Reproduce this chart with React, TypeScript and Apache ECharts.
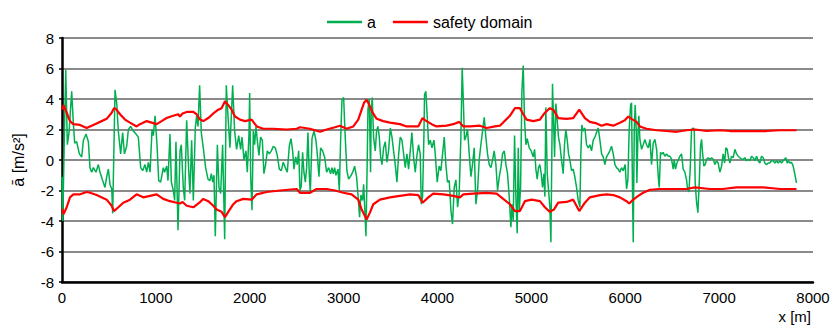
import React, { useEffect, useRef } from "react";
import * as echarts from "echarts";

// distance along route [m] and acceleration a [m/s²]
const accelX = [0,8,25,40,57,75,103,121,135,156,185,210,228,256,281,298,316,334,362,387,405,433,458,476,494,511,530,540,565,583,600,625,646,665,689,707,732,760,788,813,838,860,884,902,920,938,959,973,991,
1012,1030,1051,1079,1093,1115,1129,1150,1165,1186,1200,1214,1236,1257,1271,1292,1307,1328,1349,1363,1381,1399,1420,1434,1449,1466,1484,1505,1530,1555,1576,1591,1605,1619,1633,1655,1672,1690,1711,1733,1750,1768,1789,1818,1839,1860,1882,1903,1917,1939,1960,1974,1992,
1999,2010,2024,2038,2052,2066,2080,2098,2116,2134,2151,2169,2187,2208,2230,2251,2272,2293,2315,2336,2357,2379,2400,2421,2439,2457,2471,2489,2506,2521,2535,2549,2563,2577,2592,2606,2620,2634,2645,2663,2684,2705,2719,2737,2755,2776,2797,2819,2840,2861,2876,2890,2904,2918,2940,2954,2968,2982,3000,
3017,3035,3053,3081,3103,3117,3138,3152,3170,3184,3202,3213,3223,3238,3252,3259,3273,3287,3294,3305,3319,3337,3351,3365,3380,3394,3408,3426,3444,3461,3479,3497,3515,3532,3550,3568,3585,3603,3621,3639,3657,3674,3692,3710,3727,3745,3763,3781,3798,3816,3827,3841,3855,3862,3876,3891,3905,3923,3941,3962,3976,3997,
4018,4036,4054,4072,4089,4107,4125,4143,4160,4178,4196,4214,4231,4249,4263,4274,4288,4302,4320,4338,4356,4373,4391,4409,4427,4444,4462,4480,4498,4515,4533,4551,4569,4587,4604,4622,4640,4658,4675,4693,4711,4729,4746,4764,4782,4793,4807,4821,4835,4849,4860,4871,4885,4899,4913,4927,4942,4956,4977,
4998,5020,5034,5048,5062,5076,5090,5105,5119,5133,5144,5154,5169,5183,5197,5208,5218,5225,5236,5247,5261,5275,5289,5304,5321,5339,5353,5367,5382,5396,5410,5428,5446,5463,5481,5499,5517,5527,5538,5552,5570,5588,5606,5623,5641,5659,5677,5694,5712,5730,5748,5765,5783,5801,5819,5836,5854,5872,5890,5907,5925,5943,5960,5978,5999,
6014,6028,6042,6057,6067,6078,6085,6096,6106,6117,6124,6135,6145,6156,6174,6191,6209,6227,6245,6263,6280,6298,6316,6334,6351,6362,6376,6390,6404,6422,6440,6458,6475,6493,6511,6522,6536,6550,6568,6582,6600,6617,6635,6653,6664,6678,6692,6706,6724,6735,6745,6760,6774,6788,6802,6813,6823,6838,6852,6866,6884,6901,6919,6937,6955,6972,6990,
7008,7026,7043,7058,7072,7086,7100,7115,7132,7150,7168,7186,7203,7221,7239,7257,7274,7292,7310,7328,7345,7363,7381,7399,7416,7434,7452,7470,7487,7505,7523,7541,7558,7576,7594,7612,7629,7647,7665,7682,7711,7725,7739,7753,7771,7789,7807,7824];
const accelY = [-1.1,-4.0,1.5,5.9,1.0,1.8,4.5,2.4,1.1,1.2,0.4,0.2,1.3,1.7,1.2,-0.5,-0.8,-0.5,-0.8,-0.3,-0.8,-1.35,-1.8,-1.1,-0.6,-1.6,-1.9,-3.5,4.6,3.7,1.9,0.4,1.8,0.4,0.9,2.0,2.2,1.9,1.7,1.5,-0.5,-0.7,-0.3,-0.8,-0.15,-0.8,2.0,1.6,2.9,
1.0,-1.35,-1.45,-0.5,-0.8,-0.4,-1.35,1.7,-1.45,-2.0,-2.65,1.2,-4.6,0.6,1.0,-1.8,-2.65,2.6,-0.6,-2.2,1.3,-2.65,2.1,2.9,2.2,4.9,1.8,0.8,-0.5,-1.25,-1.35,-0.9,-1.45,-1.0,-5.0,1.0,-1.8,-2.2,1.0,-5.2,4.9,2.9,0.8,4.9,1.9,0.7,1.6,0.7,1.5,0.0,0.6,-0.8,1.7,
4.4,-1.1,-3.3,1.9,1.0,2.2,1.3,0.3,1.5,1.3,-0.9,-0.3,0.6,0.4,0.6,0.9,0.8,0.3,-0.6,-0.7,-0.15,-0.5,-0.8,0.9,1.4,0.6,-0.6,0.2,-0.3,0.6,-2.0,-1.7,0.5,-0.8,-1.45,-0.5,1.8,-0.9,-2.2,1.4,1.9,1.3,0.4,-1.1,0.8,0.6,0.2,-0.8,-0.5,-0.9,-0.5,-0.9,-0.5,-1.0,-0.6,-2.0,1.3,3.9,4.1,
1.5,-0.7,-1.25,-1.0,-0.7,-0.4,-1.1,-2.2,-3.75,-2.3,-2.65,-1.6,-2.9,-5.0,0.2,3.3,4.0,-0.8,3.2,4.1,1.5,0.6,1.9,2.2,1.5,0.2,-0.3,0.8,1.2,-0.15,0.6,2.1,1.5,0.6,-0.3,-1.45,0.3,1.5,1.3,0.4,-0.5,0.4,-0.6,0.6,1.8,0.2,-0.8,0.3,1.0,0.4,-2.9,-2.4,1.5,4.3,4.5,2.8,1.0,1.3,0.8,1.3,0.4,-1.45,
-0.4,-0.7,0.4,1.5,-0.3,-1.45,-1.35,-3.3,-4.2,-1.8,-1.3,-3.1,-2.2,1.5,6.05,4.1,1.3,1.5,2.0,0.4,-1.1,-0.3,0.8,-2.9,-2.0,0.0,1.0,1.9,2.8,1.5,0.4,-0.3,-0.5,0.0,0.6,-0.3,-2.0,-1.1,-0.5,0.4,0.6,-0.3,-0.9,-2.4,-4.4,-2.9,-4.0,1.6,-2.4,-4.8,0.8,-3.3,-1.8,4.5,6.2,2.6,1.0,1.4,0.8,
0.6,0.2,0.7,-0.6,-1.25,-0.5,-0.3,-0.9,-1.8,-0.9,-2.4,3.45,-0.9,-2.0,-3.1,-5.4,0.4,5.0,2.6,0.2,3.7,2.6,1.5,1.0,0.0,-0.9,1.0,2.0,1.3,0.4,0.0,-0.7,-0.6,-1.1,-1.8,-2.65,-3.1,0.4,2.3,1.9,2.1,1.0,0.8,1.0,0.6,1.3,1.5,1.8,2.1,1.3,0.4,0.2,-0.3,0.2,0.4,0.6,0.9,0.4,-0.3,-0.5,-0.6,-0.8,-0.5,-0.7,-0.3,
-1.9,-1.3,2.0,3.6,3.75,-2.4,-5.4,2.0,3.6,2.0,-1.5,1.6,2.9,1.35,0.7,1.0,1.35,1.0,0.8,1.35,-0.3,1.1,1.35,0.7,-1.05,-1.8,0.5,0.4,0.5,0.25,0.4,0.25,0.25,0.05,-0.6,0.0,-0.6,-0.2,0.05,0.25,0.4,-0.6,-0.8,-1.3,-1.9,-2.1,-0.6,2.0,2.1,2.0,-1.5,-2.8,-3.45,-1.5,0.9,1.35,0.5,-0.4,-0.3,0.05,0.15,0.05,0.15,0.05,-0.3,-0.05,-0.2,
-0.8,-0.4,0.4,-0.2,0.8,0.7,0.15,-0.2,0.25,0.15,0.7,0.4,0.25,0.15,0.05,0.05,0.15,-0.05,0.05,-0.05,0.25,0.15,-0.05,0.25,-0.05,-0.2,0.25,0.15,-0.2,-0.3,-0.2,-0.2,-0.05,-0.05,-0.2,-0.05,-0.2,-0.05,-0.2,-0.05,0.15,-0.2,-0.05,-0.2,-0.15,-0.4,-0.95,-1.5];

const upperX = [0,17,50,85,121,192,263,298,351,405,476,529,554,575,618,671,724,795,831,902,955,1008,1061,1114,1185,1238,1256,1285,1328,1399,1434,1470,1505,1558,1612,1665,1700,1736,1771,1807,1843,1896,1950,2020,2074,2145,2251,2393,2500,2535,2641,2748,2819,2908,2961,3032,3103,3156,3192,3217,3245,3270,3309,3352,3422,3494,3600,3671,3777,3795,3841,3870,3937,3990,4097,4168,4232,4275,4346,4452,4523,4612,4665,4771,4825,4878,4914,4949,5020,5091,5144,5197,5233,5286,5375,5446,5510,5570,5623,5695,5748,5801,5872,5943,5996,6032,6067,6121,6156,6227,6334,6440,6547,6653,6742,6866,7008,7115,7292,7505,7647,7824];
const upperY = [3.3,3.6,3.1,2.55,2.35,2.3,2.1,2.2,2.35,2.5,2.7,3.1,3.4,3.35,3.0,2.65,2.45,2.2,2.35,2.55,2.45,2.35,2.55,2.75,2.9,3.0,2.85,3.05,3.15,3.15,3.0,2.65,2.55,2.75,3.05,3.3,3.4,3.85,3.6,3.3,2.85,2.65,2.55,2.65,2.2,2.05,2.05,2.0,2.05,2.15,2.05,1.85,2.0,2.15,2.25,2.05,2.2,2.65,3.3,3.75,3.95,3.65,3.1,2.7,2.55,2.45,2.35,2.2,2.2,2.2,2.75,2.6,2.35,2.2,2.25,2.35,2.5,2.2,2.2,2.25,2.1,2.2,2.25,2.9,3.4,3.4,3.0,2.65,2.55,2.65,3.1,3.4,3.3,2.75,2.7,2.75,3.3,2.75,2.5,2.4,2.25,2.35,2.25,2.45,2.6,2.85,2.7,2.5,2.2,2.05,1.95,1.9,1.85,1.95,2.0,1.9,1.95,1.9,1.9,1.9,1.95,1.95];

const lowerX = [0,17,50,85,121,192,263,298,369,476,529,554,600,653,724,795,866,937,1008,1079,1150,1221,1256,1285,1328,1399,1463,1505,1558,1612,1647,1700,1736,1771,1825,1860,1931,2020,2074,2180,2322,2500,2535,2641,2712,2819,2908,2996,3085,3156,3192,3245,3280,3316,3387,3494,3600,3706,3795,3841,3902,3955,4062,4168,4239,4275,4381,4523,4630,4771,4825,4878,4931,5002,5091,5144,5197,5240,5286,5375,5446,5510,5570,5623,5730,5801,5872,5943,6014,6042,6085,6138,6191,6263,6369,6511,6650,6742,6900,7040,7185,7470,7650,7824];
const lowerY = [-3.2,-3.55,-3.1,-2.45,-2.25,-2.25,-2.1,-2.15,-2.3,-2.6,-3.0,-3.35,-3.1,-2.8,-2.6,-2.25,-2.45,-2.35,-2.25,-2.55,-2.7,-2.8,-2.85,-2.75,-3.0,-3.1,-2.8,-2.55,-2.7,-3.0,-3.25,-3.4,-3.75,-3.4,-2.9,-2.7,-2.55,-2.6,-2.25,-2.1,-2.0,-1.9,-2.15,-2.15,-1.9,-1.9,-2.0,-2.15,-2.25,-2.6,-3.25,-3.9,-3.45,-2.9,-2.6,-2.45,-2.35,-2.25,-2.3,-2.8,-2.45,-2.2,-2.25,-2.35,-2.45,-2.25,-2.2,-2.15,-2.2,-2.9,-3.35,-3.35,-2.7,-2.6,-2.7,-3.1,-3.4,-3.25,-2.8,-2.75,-2.6,-3.35,-2.8,-2.45,-2.3,-2.25,-2.3,-2.45,-2.7,-2.85,-2.6,-2.35,-2.15,-1.95,-1.9,-1.9,-1.9,-1.8,-1.9,-1.9,-1.8,-1.8,-1.9,-1.9];

const xTicks = { min: 0, max: 8000, interval: 1000 };
const yTicks = { min: -8, max: 8, interval: 2 };

const FONT = "'Liberation Sans', Arial, sans-serif";

const zip = (xs: number[], ys: number[]) => xs.map((x, i) => [x, ys[i]]);

export default function App() {
  const ref = useRef<HTMLDivElement>(null);
  useEffect(() => {
    if (!ref.current) return;
    const chart = echarts.init(ref.current, null, { renderer: "svg" });
    chart.setOption({
      animation: false,
      backgroundColor: "#ffffff",
      textStyle: { fontFamily: FONT },
      grid: { left: 62, right: 26, top: 38, bottom: 46 },
      legend: {
        left: 322,
        top: 9,
        icon: "rect",
        itemWidth: 35,
        itemHeight: 2.5,
        itemGap: 17,
        textStyle: { fontFamily: FONT, fontSize: 16, color: "#000" },
        data: ["a", "safety domain"],
      },
      xAxis: {
        type: "value",
        ...xTicks,
        axisLine: { onZero: false, lineStyle: { color: "#000", width: 2.5 } },
        axisTick: { show: false },
        splitLine: { show: false },
        axisLabel: {
          color: "#000",
          fontSize: 15,
          fontFamily: FONT,
          margin: 8,
          formatter: (v: number) => String(v),
        },
      },
      yAxis: {
        type: "value",
        ...yTicks,
        name: "ā [m/s²]",
        nameLocation: "middle",
        nameGap: 36,
        nameTextStyle: { color: "#000", fontSize: 16, fontFamily: FONT },
        axisLine: { show: true, onZero: false, lineStyle: { color: "#000", width: 2.5 } },
        axisTick: { show: true, length: 3, lineStyle: { color: "#000", width: 1.5 } },
        splitLine: { show: true, lineStyle: { color: "#8a8a8a", width: 2 } },
        axisLabel: { color: "#000", fontSize: 15, fontFamily: FONT, margin: 8 },
      },
      graphic: [
        {
          type: "text",
          right: 28,
          top: 309,
          style: { text: "x [m]", fill: "#000", fontSize: 15, fontFamily: FONT },
        },
      ],
      series: [
        {
          name: "a",
          type: "line",
          data: zip(accelX, accelY),
          symbol: "none",
          lineStyle: { color: "#00b050", width: 1.5 },
          itemStyle: { color: "#00b050" },
        },
        {
          name: "safety domain",
          type: "line",
          data: zip(upperX, upperY),
          symbol: "none",
          lineStyle: { color: "#ff0000", width: 2.2 },
          itemStyle: { color: "#ff0000" },
        },
        {
          name: "safety domain",
          type: "line",
          data: zip(lowerX, lowerY),
          symbol: "none",
          lineStyle: { color: "#ff0000", width: 2.2 },
          itemStyle: { color: "#ff0000" },
        },
      ],
    });
    return () => chart.dispose();
  }, []);
  return <div ref={ref} style={{ width: 839, height: 328, position: "absolute", left: 0, top: 0 }} />;
}
